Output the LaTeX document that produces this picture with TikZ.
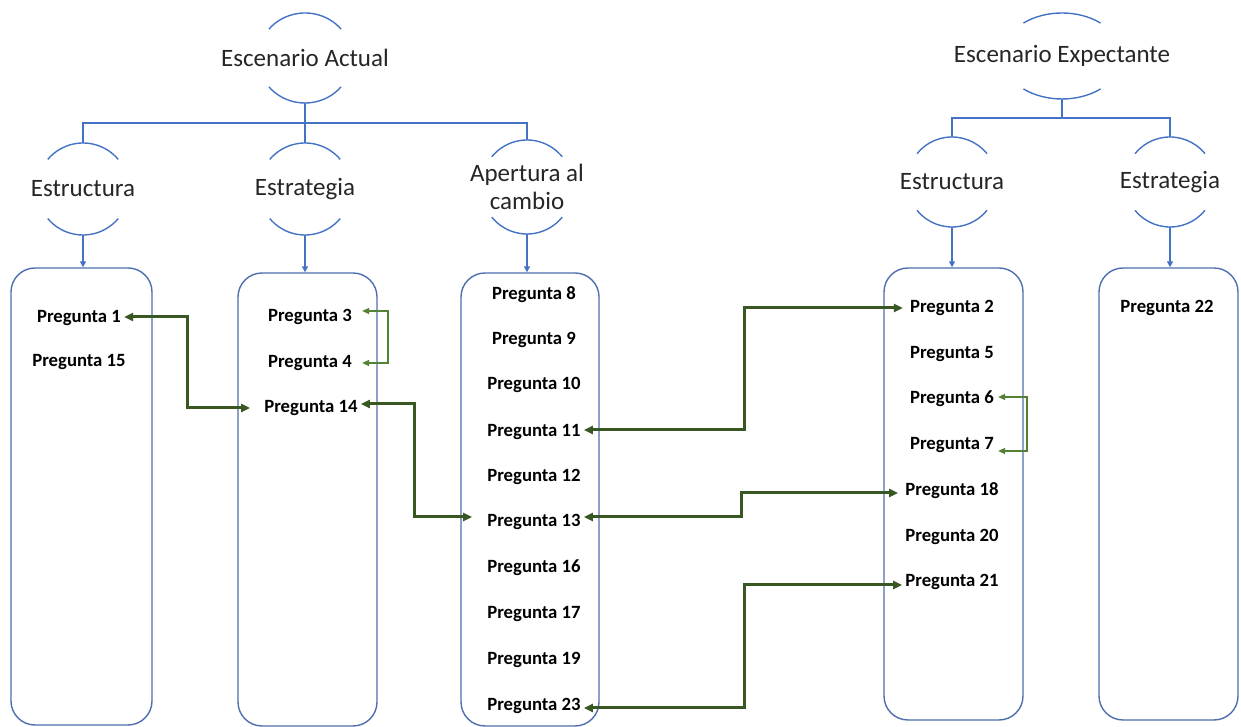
\documentclass[tikz,border=0pt]{standalone}
\usepackage{fontspec}
\setmainfont{Carlito}
\usetikzlibrary{arrows.meta,calc}
\definecolor{sblue}{HTML}{4472C4}
\definecolor{bblue}{HTML}{4E6EAE}
\definecolor{dgreen}{HTML}{385723}
\definecolor{lgreen}{HTML}{548235}
\newcommand\ovalarcs[4]{%
  \coordinate (#1-top) at ($(#1)+(0,#3)$);
  \coordinate (#1-bot) at ($(#1)+(0,-#3)$);
  \draw[arcline] ($(#1)+(#4:#2 and #3)$) arc[start angle=#4, end angle=180-#4, x radius=#2, y radius=#3];
  \draw[arcline] ($(#1)+(180+#4:#2 and #3)$) arc[start angle=180+#4, end angle=360-#4, x radius=#2, y radius=#3];
}
\begin{document}
\begin{tikzpicture}[x=1pt,y=1pt,
  head/.style={font=\fontsize{25}{28}\selectfont, text=black!85, inner sep=0pt, align=center},
  q/.style={font=\fontsize{18.7}{22}\selectfont\bfseries, inner sep=3pt},
  arcline/.style={draw=sblue, line width=1.4pt},
  bline/.style={draw=sblue, line width=1.4pt},
  barrow/.style={bline, -{Triangle[length=6pt,width=6pt]}},
  qbox/.style={draw=bblue, line width=1.4pt, rounded corners=24pt},
  gthick/.style={draw=dgreen, line width=3pt, {Triangle[length=9pt,width=8pt]}-{Triangle[length=9pt,width=8pt]}},
  gthin/.style={draw=lgreen, line width=1.3pt, {Triangle[length=7pt,width=6pt]}-{Triangle[length=7pt,width=6pt]}},
]
\useasboundingbox (0,0) rectangle (1241,727);

% headings
\node[head] (ea) at (305,669) {Escenario Actual};
\node[head] (est1) at (83,538) {Estructura};
\node[head] (estr1) at (305,538) {Estrategia};
\node[head] (ap) at (527,540) {Apertura al\\cambio};
\node[head] (ee) at (1062,671) {Escenario Expectante};
\node[head] (est2) at (952,545) {Estructura};
\node[head] (estr2) at (1170,545) {Estrategia};

\ovalarcs{ea}{47}{45}{40}
\ovalarcs{est1}{46}{46}{40}
\ovalarcs{estr1}{46}{46}{40}
\ovalarcs{ap}{46}{47}{40}
\ovalarcs{ee}{60}{43}{50}
\ovalarcs{est2}{45}{45}{39}
\ovalarcs{estr2}{45}{45}{39}

% boxes
\node[qbox, minimum width=141pt, minimum height=457pt] (b1) at (81.5,230.5) {};
\node[qbox, minimum width=139pt, minimum height=453pt] (b2) at (307.5,227.5) {};
\node[qbox, minimum width=138pt, minimum height=453pt] (b3) at (530,227.5) {};
\node[qbox, minimum width=139pt, minimum height=452pt] (b4) at (953.5,233) {};
\node[qbox, minimum width=139pt, minimum height=452pt] (b5) at (1168.5,233) {};

% hierarchy connectors
\coordinate (barL) at ($(ea-bot)!0.5!(estr1-top)$);
\draw[bline] (ea-bot) -- (barL);
\draw[bline] (est1-top) |- (barL) -| (ap-top);
\draw[bline] (barL) -- (estr1-top);
\coordinate (barR) at ($(ee-bot)!0.5!(est2-top)$);
\draw[bline] (ee-bot) -- (barR -| ee-bot);
\draw[bline] (est2-top) |- (barR -| ee-bot) -| (estr2-top);

\draw[barrow] (est1-bot) -- (est1-bot |- b1.north);
\draw[barrow] (estr1-bot) -- (estr1-bot |- b2.north);
\draw[barrow] (ap-bot) -- (ap-bot |- b3.north);
\draw[barrow] (est2-bot) -- (est2-bot |- b4.north);
\draw[barrow] (estr2-bot) -- (estr2-bot |- b5.north);

% questions
\node[q] (p1) at (79,409) {Pregunta 1};
\node[q] (p15) at (79,365) {Pregunta 15};
\node[q] (p3) at (310,410) {Pregunta 3};
\node[q] (p4) at (310,364) {Pregunta 4};
\node[q] (p14) at (311,319) {Pregunta 14};
\node[q] (p8) at (534,432) {Pregunta 8};
\node[q] (p9) at (534,387) {Pregunta 9};
\node[q] (p10) at (534,342) {Pregunta 10};
\node[q] (p11) at (534,295) {Pregunta 11};
\node[q] (p12) at (534,250) {Pregunta 12};
\node[q] (p13) at (534,205) {Pregunta 13};
\node[q] (p16) at (534,159) {Pregunta 16};
\node[q] (p17) at (534,113) {Pregunta 17};
\node[q] (p19) at (534,67) {Pregunta 19};
\node[q] (p23) at (534,21) {Pregunta 23};
\node[q] (p2) at (952,419) {Pregunta 2};
\node[q] (p5) at (952,373) {Pregunta 5};
\node[q] (p6) at (952,328) {Pregunta 6};
\node[q] (p7) at (952,282) {Pregunta 7};
\node[q] (p18) at (952,236) {Pregunta 18};
\node[q] (p20) at (952,190) {Pregunta 20};
\node[q] (p21) at (952,145) {Pregunta 21};
\node[q] (p22) at (1167,419) {Pregunta 22};

% green links
\draw[gthick] ([yshift=1pt]p1.east) -- ++(63,0) |- ([xshift=-11pt]p14.west);
\draw[gthick] ([yshift=4pt]p14.east) -- ++(54,0) |- ([xshift=-12pt,yshift=5pt]p13.west);
\draw[gthin] ([xshift=7pt,yshift=6pt]p3.east) -- ++(26,0) |- ([xshift=7pt]p4.east);
\draw[gthick] ([yshift=2pt]p11.east) -- ++(161,0) |- ([xshift=-4pt]p2.west);
\draw[gthick] ([yshift=5pt]p13.east) -- ++(158,0) |- ([xshift=-4pt,yshift=-2pt]p18.west);
\draw[gthick] ([yshift=-2pt]p23.east) -- ++(161,0) |- ([yshift=-3pt]p21.west);
\draw[gthin] ([xshift=1pt,yshift=2pt]p6.east) -- ++(29,0) |- ([xshift=1pt,yshift=-6pt]p7.east);
\end{tikzpicture}
\end{document}
